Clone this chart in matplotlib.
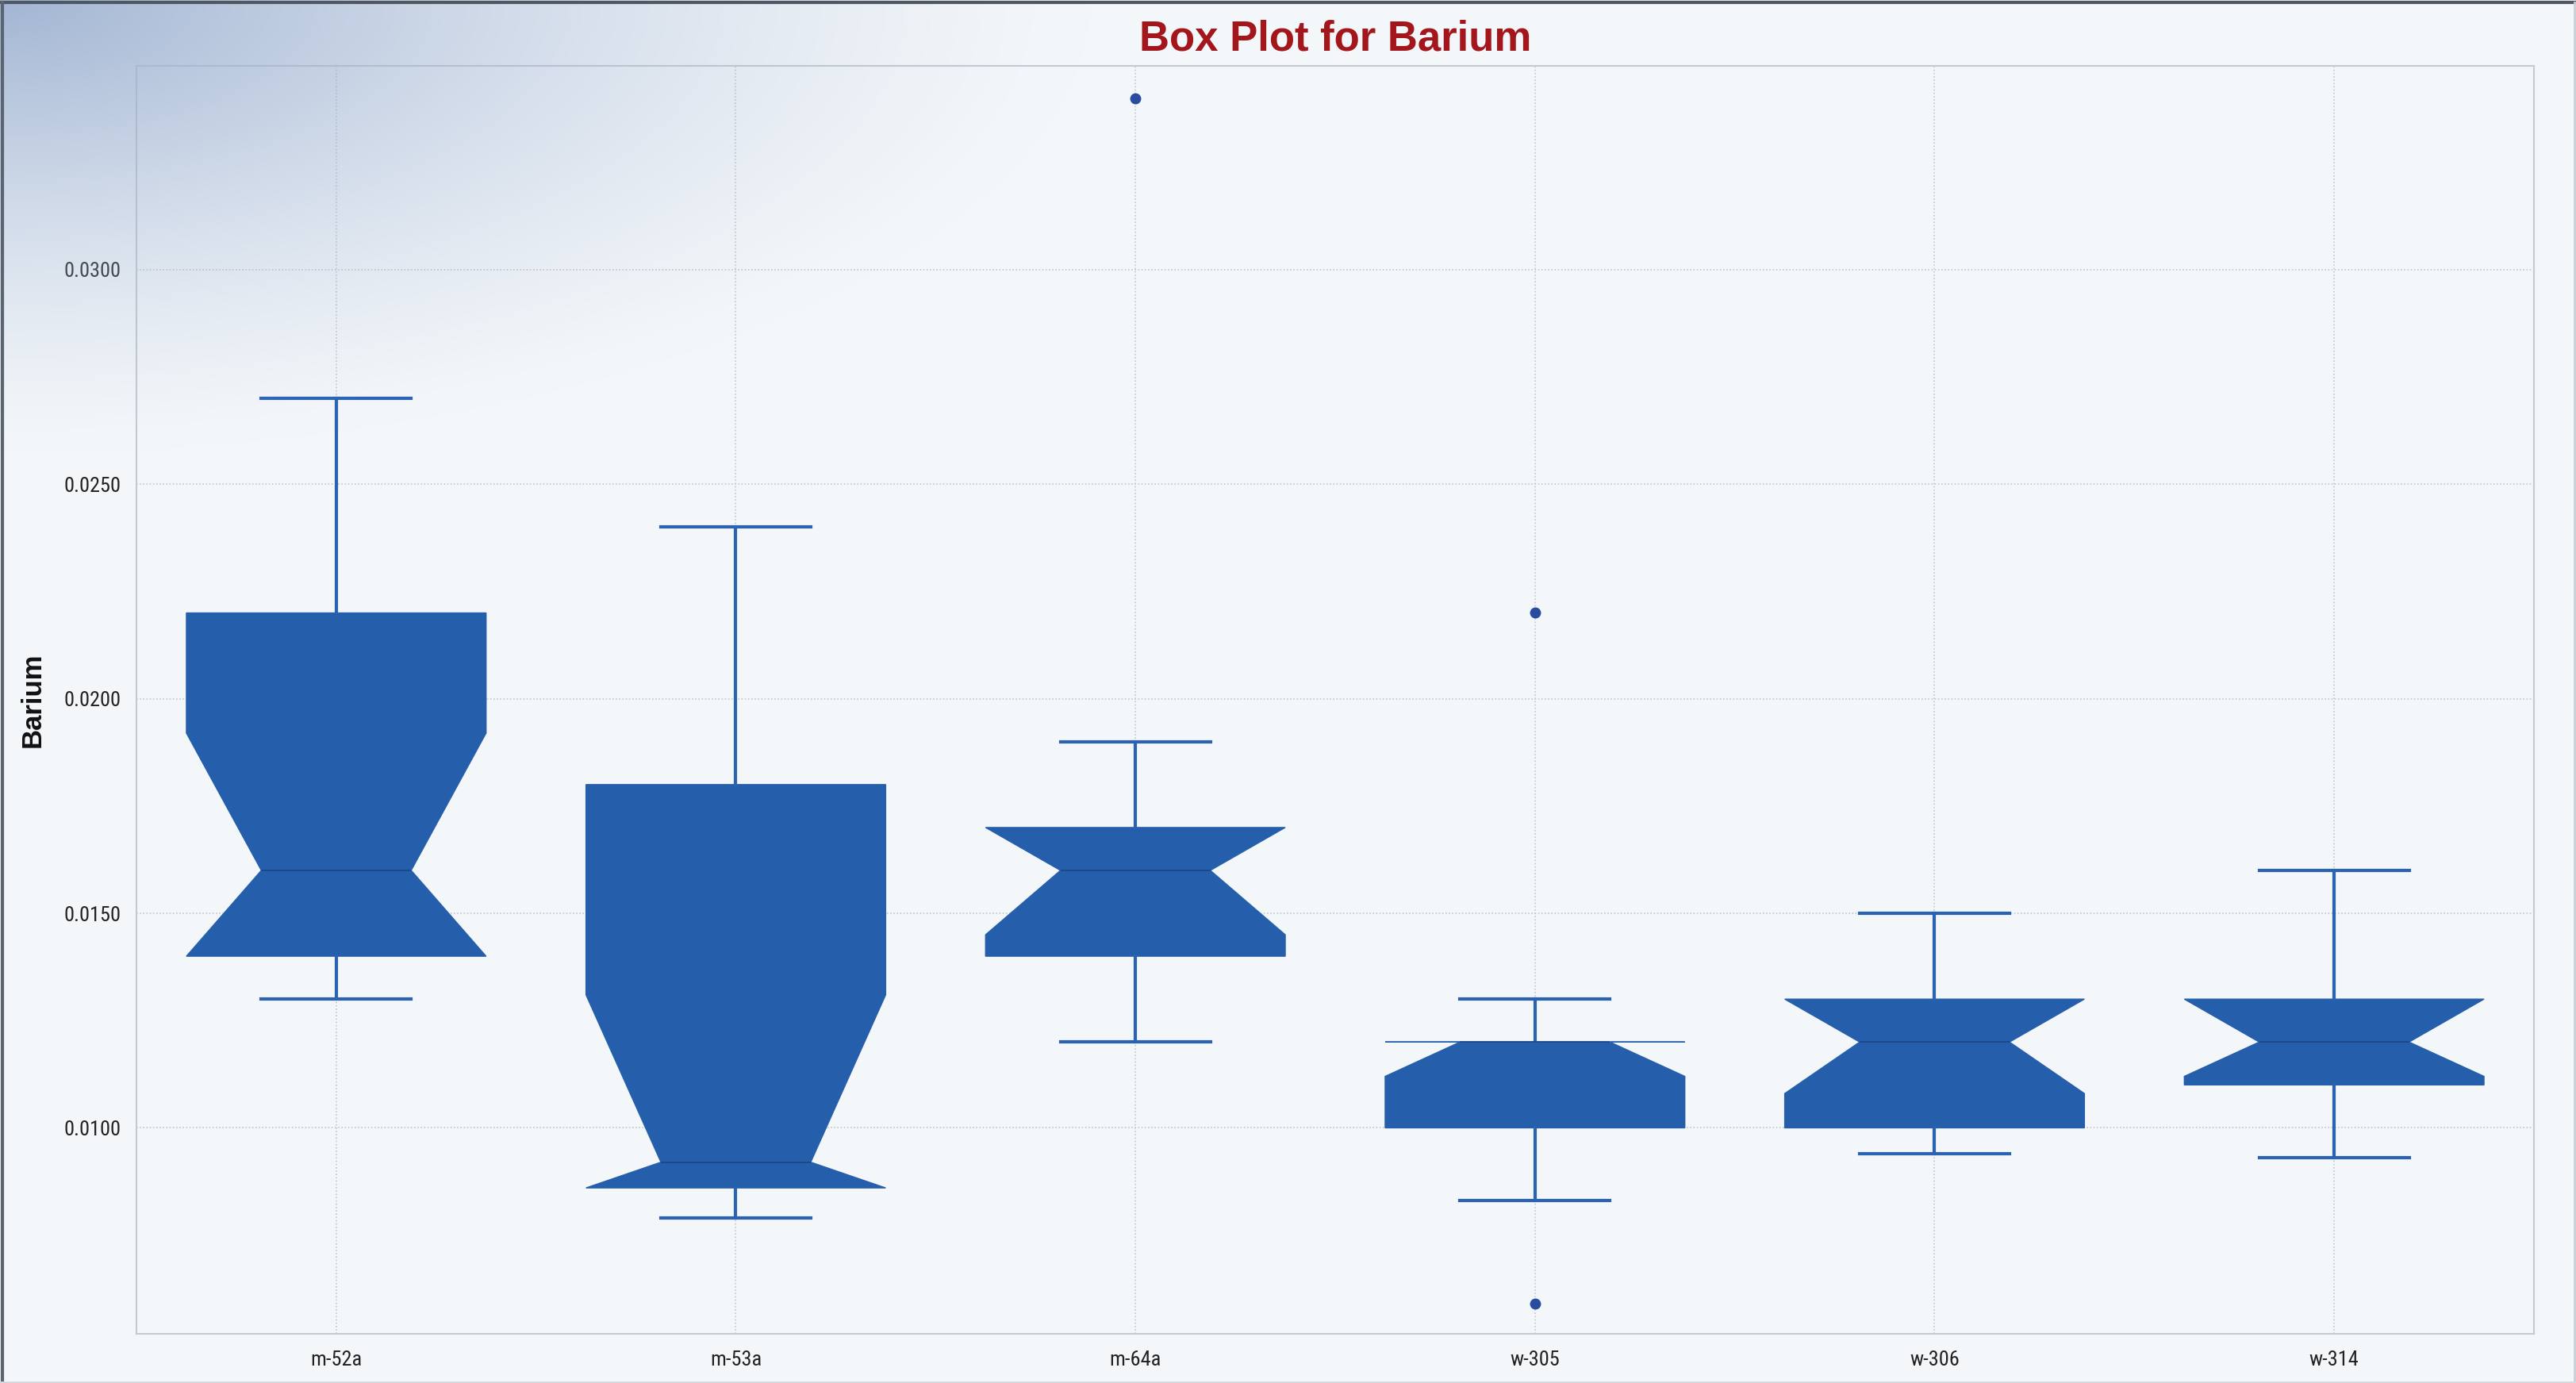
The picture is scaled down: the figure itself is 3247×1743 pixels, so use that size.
import numpy as np
import matplotlib
matplotlib.use("Agg")
import matplotlib.pyplot as plt
from matplotlib.lines import Line2D
from matplotlib import font_manager

# ---- data -------------------------------------------------------------
wells = ["m-52a", "m-53a", "m-64a", "w-305", "w-306", "w-314"]
whisker_low = [0.0130, 0.0079, 0.0120, 0.0083, 0.0094, 0.0093]
quart_1 = [0.0140, 0.0086, 0.0140, 0.0100, 0.0100, 0.0110]
notch_low = [0.0140, 0.0086, 0.0145, 0.0112, 0.0108, 0.0112]
median = [0.0160, 0.0092, 0.0160, 0.0120, 0.0120, 0.0120]
notch_high = [0.0192, 0.0131, 0.0170, 0.0120, 0.0130, 0.0130]
quart_3 = [0.0220, 0.0180, 0.0170, 0.0120, 0.0130, 0.0130]
whisker_high = [0.0270, 0.0240, 0.0190, 0.0130, 0.0150, 0.0160]
outliers = [[], [], [0.0340], [0.0220, 0.0059], [], []]
y_ticks = [0.0100, 0.0150, 0.0200, 0.0250, 0.0300]

BLUE = "#255fab"
W, H, DPI = 3248, 1743, 100

# pick a narrow face for tick labels when one is available
names = {f.name for f in font_manager.fontManager.ttflist}
narrow = [n for n in ("Liberation Sans Narrow", "Arial Narrow", "Roboto Condensed",
                      "DejaVu Sans Condensed") if n in names]
cond_dejavu = any(f.name == "DejaVu Sans" and f.stretch in ("condensed", 600 - 100, 400 - 100)
                  for f in font_manager.fontManager.ttflist)
if narrow:
    tick_kw = dict(family=[narrow[0], "DejaVu Sans"], size=19)
elif cond_dejavu:
    tick_kw = dict(family=["DejaVu Sans"], stretch="condensed", size=17)
else:
    tick_kw = dict(family=["Liberation Sans", "DejaVu Sans"], size=17)

fig = plt.figure(figsize=(W / DPI, H / DPI), dpi=DPI)
fig.patch.set_facecolor("#f4f7fa")

# plot area
x0, x1, ytop, ybot = 172, 3194, 83, 1681
ax = fig.add_axes([x0 / W, 1 - ybot / H, (x1 - x0) / W, (ybot - ytop) / H])
ax.patch.set_alpha(0)

stats = []
for i, name in enumerate(wells):
    stats.append(dict(label=name, whislo=whisker_low[i], q1=quart_1[i],
                      med=median[i], q3=quart_3[i], whishi=whisker_high[i],
                      cilo=notch_low[i], cihi=notch_high[i],
                      fliers=outliers[i]))

ax.bxp(stats, positions=range(len(wells)), widths=0.75, shownotches=True,
       patch_artist=True,
       boxprops=dict(facecolor=BLUE, edgecolor=BLUE, linewidth=1),
       whiskerprops=dict(color="#2a63b2", linewidth=3),
       capprops=dict(color="#2a63b2", linewidth=3),
       medianprops=dict(color="#1c4584", linewidth=1.2),
       flierprops=dict(marker="o", markersize=9, markerfacecolor="#2a4c9e",
                       markeredgecolor="#2a4c9e"))

ax.set_xlim(-0.5, len(wells) - 0.5)
ax.set_ylim(0.0052, 0.03475)
ax.set_yticks(y_ticks)
ax.set_yticklabels([f"{v:.4f}" for v in y_ticks])
ax.set_xticks(range(len(wells)))
ax.set_xticklabels(wells)

for lab in ax.get_yticklabels() + ax.get_xticklabels():
    lab.set_fontfamily(tick_kw["family"])
    lab.set_fontsize(tick_kw["size"])
    if "stretch" in tick_kw:
        lab.set_fontstretch(tick_kw["stretch"])
    lab.set_color("#222222")
ax.tick_params(axis="y", length=0, pad=14)
ax.tick_params(axis="x", length=0, pad=15)

ax.grid(True, linestyle=(0, (1, 1.5)), color="#c3c7cc", linewidth=1.2)
ax.set_axisbelow(True)
for s in ax.spines.values():
    s.set_color("#c6cacf")
    s.set_linewidth(1.5)

# title and axis label
fig.text((x0 + x1) / 2 / W, 1 - 49 / H, "Box Plot for Barium",
         ha="center", va="center", fontsize=38, fontweight="bold",
         color="#a3161c", family=["Liberation Sans", "DejaVu Sans"])
fig.text(41 / W, 1 - ((ytop + ybot) / 2) / H, "Barium", rotation=90,
         ha="center", va="center", fontsize=25, fontweight="bold",
         color="#111111", family=["Liberation Sans", "DejaVu Sans"])

# soft blue glare in the upper-left corner
gx = np.arange(W // 4) * 4.0
gy = np.arange(H // 4) * 4.0
XX, YY = np.meshgrid(gx, gy)
t = np.sqrt((XX / 1400.0) ** 2 + (YY / 580.0) ** 2)
alpha = np.clip(1 - t, 0, 1) ** 1.4
rgba = np.zeros(XX.shape + (4,))
rgba[..., 0] = 0.62
rgba[..., 1] = 0.70
rgba[..., 2] = 0.82
rgba[..., 3] = alpha * 0.95
ov = fig.add_axes([0, 0, 1, 1], zorder=5)
ov.imshow(rgba, extent=[0, 1, 0, 1], aspect="auto", origin="upper",
          interpolation="bilinear")
ov.axis("off")
ov.set_xlim(0, 1)
ov.set_ylim(0, 1)

# window frame
fig.add_artist(Line2D([0.0005, 0.9995], [0.9985, 0.9985], color="#4f5862",
                      linewidth=3, transform=fig.transFigure, zorder=6))
fig.add_artist(Line2D([0.0008, 0.0008], [0.0, 0.9985], color="#5a6571",
                      linewidth=3, transform=fig.transFigure, zorder=6))
fig.add_artist(Line2D([0.9992, 0.9992], [0.0, 0.9985], color="#c9d0d8",
                      linewidth=2, transform=fig.transFigure, zorder=6))
fig.add_artist(Line2D([0.0, 1.0], [0.0008, 0.0008], color="#d4dae0",
                      linewidth=2, transform=fig.transFigure, zorder=6))

fig.savefig("out.png", dpi=DPI, facecolor=fig.get_facecolor())
